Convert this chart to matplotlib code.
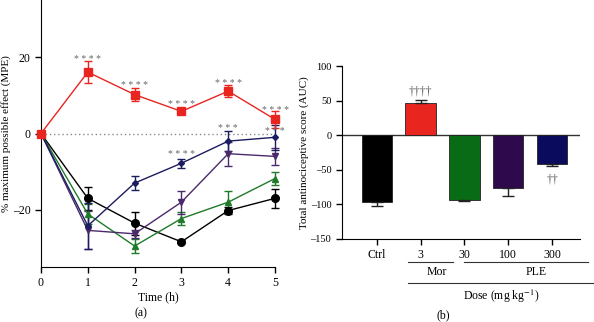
import numpy as np
import matplotlib
matplotlib.use("Agg")
import matplotlib.pyplot as plt
import matplotlib.transforms as mtransforms

plt.rcParams["font.family"] = ["Liberation Serif", "DejaVu Serif"]
plt.rcParams["font.size"] = 8.5
plt.rcParams["mathtext.fontset"] = "stix"

# ---- panel (a): time course ----
time_h = [0, 1, 2, 3, 4, 5]

ctrl_mean = [0, -17.0, -23.5, -28.4, -20.2, -17.0]
ctrl_err = [0, 3.0, 3.0, 0.4, 0.8, 2.5]
mor_mean = [0, 16.1, 10.2, 5.8, 11.1, 3.7]
mor_err = [0, 2.8, 1.7, 0.8, 1.5, 2.3]
ple30_mean = [0, -21.1, -29.5, -22.3, -18.0, -11.8]
ple30_err = [0, 2.5, 1.8, 1.8, 2.8, 1.7]
ple100_mean = [0, -25.4, -26.3, -18.0, -5.3, -6.0]
ple100_err = [0, 5.0, 1.0, 3.0, 3.2, 2.2]
ple300_mean = [0, -24.2, -13.0, -7.8, -2.0, -1.0]
ple300_err = [0, 6.0, 1.8, 1.2, 2.7, 3.3]

# significance marks
stars_t = [1, 2, 3, 3, 4, 4, 5, 5]
stars_y = [20.4, 13.5, 8.7, -4.6, 14.1, 2.4, 7.1, 1.6]
stars_lab = ["****", "****", "****", "****", "****", "***", "****", "***"]

# ---- panel (b): AUC bars ----
bar_labels = ["Ctrl", "3", "30", "100", "300"]
bar_vals = [-97, 46, -93, -76.5, -41.6]
bar_errs = [5, 4.5, 1.5, 12, 2.5]
bar_colors = ["#000000", "#e8251f", "#0a6b16", "#2e0a4d", "#0b0b5e"]

fig = plt.figure(figsize=(5.94, 3.22), dpi=100)

ax = fig.add_axes([41 / 594, 1 - 267 / 322, 234 / 594, 267 / 322])
series = [
    (ctrl_mean, ctrl_err, "#000000", "o", 5.5),
    (ple30_mean, ple30_err, "#1f7a2a", "^", 4.5),
    (ple100_mean, ple100_err, "#4a2a6a", "v", 4.5),
    (ple300_mean, ple300_err, "#1c1c60", "D", 3),
    (mor_mean, mor_err, "#e8251f", "s", 5.5),
]
ax.axhline(0, color="#888888", ls=(0, (1, 2)), lw=1, zorder=1)
for mean, err, col, mk, ms in series:
    ax.errorbar(time_h, mean, yerr=err, color=col, marker=mk, ms=ms,
                lw=1, capsize=3, elinewidth=1, capthick=1, clip_on=False,
                zorder=3)
for t, y, lab in zip(stars_t, stars_y, stars_lab):
    # asterisks sit high in the glyph box, so shift down a little
    ax.text(t, y - 1.0, " ".join(lab), ha="center", va="center",
            fontsize=7, color="#666666")

ax.set_xlim(0, 5)
ax.set_ylim(-35, 35)
ax.set_xticks(time_h)
ax.set_yticks([-20, 0, 20])
ax.set_yticklabels(["\u201320", "0", "20"])
ax.spines["top"].set_visible(False)
ax.spines["right"].set_visible(False)
ax.tick_params(direction="out", length=4, width=1)
ax.set_ylabel("% maximum possible effect (MPE)", fontsize=8, labelpad=1)
ax.set_xlabel("Time (h)", labelpad=1)
fig.text(141 / 594, 1 - 313 / 322, "(a)", ha="center", va="center")

# ---- panel (b) ----
bx = fig.add_axes([341.7 / 594, 1 - 239 / 322, 238 / 594, 173 / 322])
pos = np.arange(len(bar_vals))
for p, v, e, c in zip(pos, bar_vals, bar_errs, bar_colors):
    bx.bar(p, v, width=0.69, color=c, edgecolor="#222222", lw=0.6, zorder=2)
    bx.errorbar(p, v, yerr=[[e if v < 0 else 0], [e if v > 0 else 0]],
                color="#222222", capsize=4, lw=1, capthick=1, zorder=3)
bx.axhline(0, color="#333333", lw=1, zorder=1)
bx.text(1, 63, "\u2020\u2020\u2020\u2020", ha="center", va="center",
        fontsize=8.5, color="#555555")
bx.text(4, -63.5, "\u2020\u2020", ha="center", va="center",
        fontsize=8.5, color="#555555")
bx.set_xlim(-0.8, 4.63)
bx.set_ylim(-150, 100)
bx.set_xticks(pos)
bx.set_xticklabels(bar_labels)
bx.set_yticks([-150, -100, -50, 0, 50, 100])
bx.set_yticklabels(["\u2013150", "\u2013100", "\u201350", "0", "50", "100"])
bx.spines["top"].set_visible(False)
bx.spines["right"].set_visible(False)
bx.tick_params(direction="out", length=4, width=1)
bx.tick_params(axis="y", labelsize=7.5)
bx.set_ylabel("Total antinociceptive score (AUC)", fontsize=8, labelpad=1)

tr = mtransforms.blended_transform_factory(bx.transData, bx.transAxes)
bx.plot([0.72, 1.75], [-0.131, -0.131], color="#333333", lw=0.8,
        transform=tr, clip_on=False)
bx.plot([1.98, 4.83], [-0.131, -0.131], color="#333333", lw=0.8,
        transform=tr, clip_on=False)
bx.plot([0.72, 4.97], [-0.253, -0.253], color="#333333", lw=0.8,
        transform=tr, clip_on=False)
bx.text(1.38, -0.19, "Mor", ha="center", va="center", transform=tr)
bx.text(3.64, -0.19, "PLE", ha="center", va="center", transform=tr)
bx.text(2.84, -0.334, "Dose (mg kg$^{-1}$)", ha="center", va="center",
        transform=tr)
fig.text(443 / 594, 1 - 315 / 322, "(b)", ha="center", va="center")

fig.savefig("out.png", dpi=100)
